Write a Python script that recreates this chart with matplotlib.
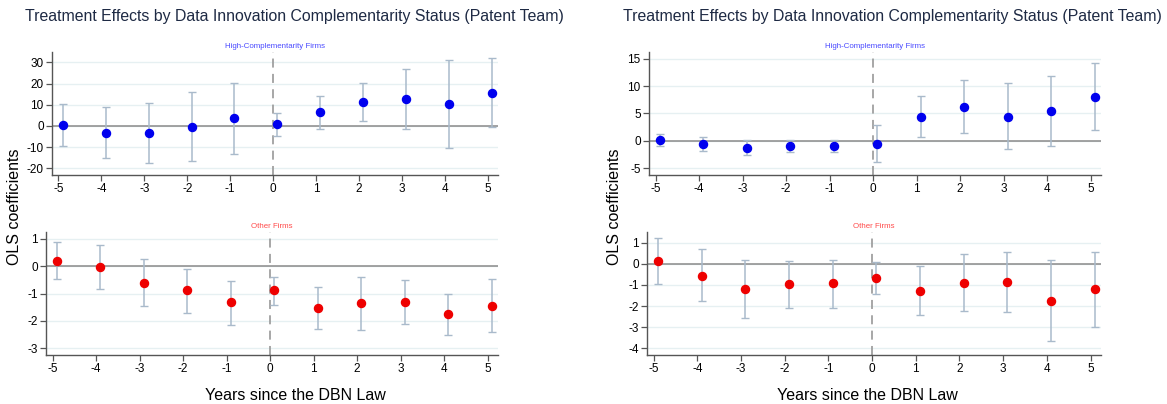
import matplotlib
matplotlib.use("Agg")
import numpy as np
import matplotlib.pyplot as plt

plt.rcParams["font.family"] = ["Liberation Sans", "DejaVu Sans"]
plt.rcParams["axes.unicode_minus"] = False

years = [-5, -4, -3, -2, -1, 0, 1, 2, 3, 4, 5]

# left figure: high-complementarity firms
left_hc_coef = [0.4, -3.2, -3.5, -0.3, 3.6, 0.8, 6.4, 11.3, 12.7, 10.5, 15.7]
left_hc_lo = [-9.5, -15.3, -17.6, -16.7, -13.4, -4.6, -1.6, 2.3, -1.6, -10.4, -0.5]
left_hc_hi = [10.5, 8.9, 10.7, 16.2, 20.4, 6.3, 14.3, 20.4, 27.0, 31.3, 32.0]
# left figure: other firms
left_ot_coef = [0.2, -0.04, -0.61, -0.89, -1.32, -0.89, -1.52, -1.36, -1.30, -1.76, -1.45]
left_ot_lo = [-0.49, -0.85, -1.47, -1.72, -2.13, -1.41, -2.28, -2.33, -2.12, -2.52, -2.42]
left_ot_hi = [0.88, 0.78, 0.24, -0.10, -0.54, -0.39, -0.76, -0.39, -0.50, -1.02, -0.49]

# right figure: high-complementarity firms
right_hc_coef = [0.09, -0.52, -1.24, -0.94, -0.94, -0.52, 4.33, 6.27, 4.45, 5.42, 8.09]
right_hc_lo = [-0.94, -1.79, -2.64, -2.09, -2.03, -3.79, 0.64, 1.36, -1.55, -1.0, 1.97]
right_hc_hi = [1.18, 0.64, 0.15, 0.09, 0.15, 2.88, 8.15, 11.12, 10.58, 11.85, 14.2]
# right figure: other firms
right_ot_coef = [0.14, -0.56, -1.19, -0.97, -0.93, -0.68, -1.28, -0.89, -0.87, -1.74, -1.20]
right_ot_lo = [-0.97, -1.78, -2.58, -2.07, -2.07, -1.45, -2.44, -2.22, -2.29, -3.65, -2.98]
right_ot_hi = [1.2, 0.69, 0.2, 0.14, 0.2, 0.09, -0.12, 0.48, 0.54, 0.17, 0.56]

TITLE = "Treatment Effects by Data Innovation Complementarity Status (Patent Team)"
ERR = "#a9bacb"
GRID = "#e6f0f2"
SPINE = "#555555"

W, H = 1167, 404
fig = plt.figure(figsize=(W / 100, H / 100), dpi=100)


def px_axes(left, right, top, bottom):
    return fig.add_axes([left / W, 1 - bottom / H, (right - left) / W, (bottom - top) / H])


def panel(ax, coef, lo, hi, color, label, lab_color, ylim, yticks):
    x = np.array(years) + 0.1
    coef = np.array(coef)
    yerr = [coef - np.array(lo), np.array(hi) - coef]
    ax.axhline(0, color="#8a8a8a", lw=1.1, zorder=1)
    ax.axvline(0, color="#a0a0a0", lw=1.3, ls=(0, (5, 3.5)), zorder=1)
    ax.errorbar(x, coef, yerr=yerr, fmt="none", ecolor=ERR, elinewidth=1.1,
                capsize=2.8, capthick=1.0, zorder=2)
    ax.plot(x, coef, "o", color=color, ms=5.8, zorder=3)
    ax.set_xlim(-5.15, 5.24)
    ax.set_ylim(*ylim)
    ax.set_xticks(years)
    ax.set_yticks(yticks)
    ax.grid(axis="y", color=GRID, lw=1.0, zorder=0)
    ax.set_axisbelow(True)
    for s in ("top", "right"):
        ax.spines[s].set_visible(False)
    for s in ("left", "bottom"):
        ax.spines[s].set_color(SPINE)
        ax.spines[s].set_linewidth(1.0)
    ax.tick_params(length=4, width=0.9, color=SPINE, labelsize=8.5, pad=2)
    ax.set_title(label, fontsize=5.7, color=lab_color, pad=3)


ax = px_axes(52, 498, 52, 175)
panel(ax, left_hc_coef, left_hc_lo, left_hc_hi, "#0000ee", "High-Complementarity Firms",
      "#4b4bff", (-23.2, 34.9), [-20, -10, 0, 10, 20, 30])
ax = px_axes(46, 498, 232, 355)
panel(ax, left_ot_coef, left_ot_lo, left_ot_hi, "#ee0000", "Other Firms",
      "#ff4b4b", (-3.24, 1.24), [-3, -2, -1, 0, 1])
ax = px_axes(649, 1101, 52, 175)
panel(ax, right_hc_coef, right_hc_lo, right_hc_hi, "#0000ee", "High-Complementarity Firms",
      "#4b4bff", (-6.2, 16.2), [-5, 0, 5, 10, 15])
ax = px_axes(647, 1101, 232, 355)
panel(ax, right_ot_coef, right_ot_lo, right_ot_hi, "#ee0000", "Other Firms",
      "#ff4b4b", (-4.31, 1.5), [-4, -3, -2, -1, 0, 1])

for cx, ylx, xlx in ((294, 15, 295), (892, 614, 867)):
    fig.text(cx / W, 1 - 17 / H, TITLE, ha="center", va="center",
             fontsize=11.45, color="#1e2a44")
    fig.text(ylx / W, 1 - 207 / H, "OLS coefficients", rotation=90,
             ha="center", va="center", fontsize=11.5)
    fig.text(xlx / W, 1 - 395 / H, "Years since the DBN Law", ha="center",
             va="center", fontsize=11.5)

fig.savefig("out.png", dpi=100)
